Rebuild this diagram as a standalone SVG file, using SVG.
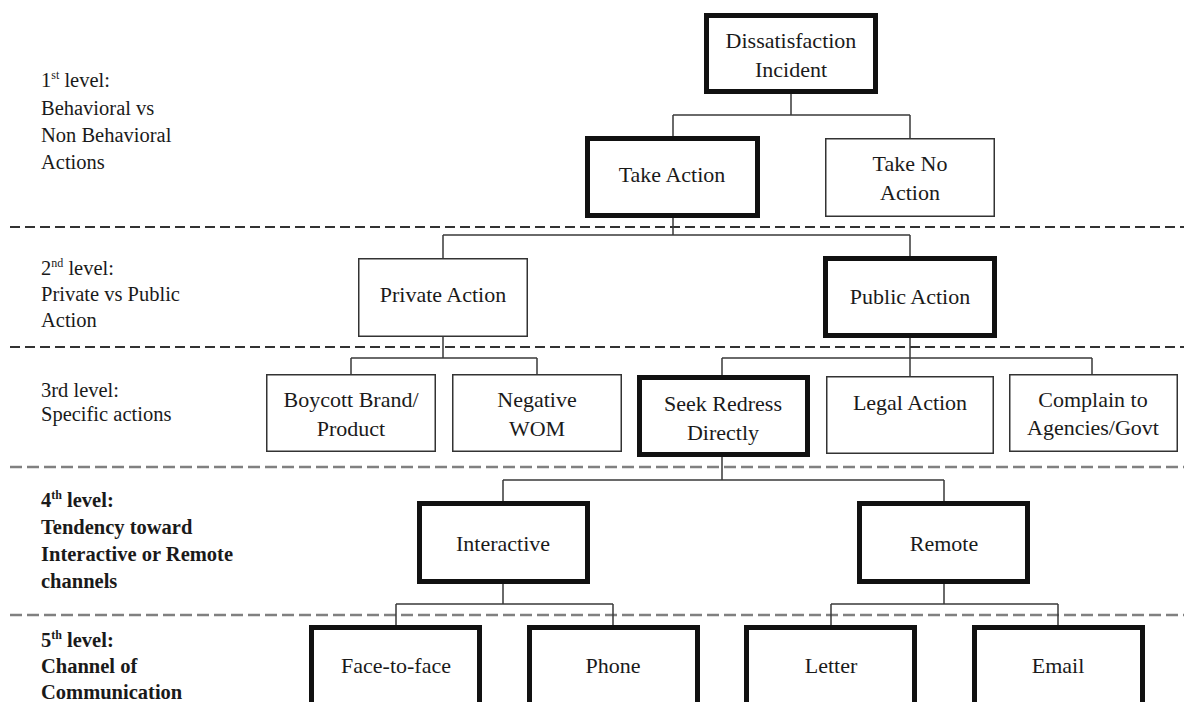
<svg xmlns="http://www.w3.org/2000/svg" width="1184" height="702" viewBox="0 0 1184 702">
<style>
  .bg { fill: #ffffff; }
  .thick { fill: #ffffff; stroke: #111111; stroke-width: 5; }
  .thin { fill: #ffffff; stroke: #333333; stroke-width: 1.5; }
  .lbl { font-family: "Liberation Serif", "Times New Roman", serif; font-size: 22px; fill: #1a1a1a; text-anchor: middle; }
  .lvl { font-family: "Liberation Serif", "Times New Roman", serif; font-size: 20.5px; fill: #1a1a1a; }
  .lvlb { font-family: "Liberation Serif", "Times New Roman", serif; font-size: 20.5px; font-weight: bold; fill: #1a1a1a; }
  .sup { font-size: 12px; }
  .dashA { stroke: #333333; stroke-width: 1.8; stroke-dasharray: 10 5; fill: none; }
  .dashB { stroke: #808080; stroke-width: 2.5; stroke-dasharray: 12 5; fill: none; }
  .conn { stroke: #3a3a3a; stroke-width: 1.5; fill: none; }
</style>
<rect class="bg" x="0" y="0" width="1184" height="702"/>

<g id="level-separators">
  <line class="dashA" x1="10" y1="227" x2="1184" y2="227"/>
  <line class="dashA" x1="10" y1="347" x2="1184" y2="347"/>
  <line class="dashB" x1="10" y1="467" x2="1184" y2="467"/>
  <line class="dashB" x1="10" y1="615" x2="1184" y2="615"/>
</g>

<g id="level-labels">
  <text class="lvl" x="41" y="87">1<tspan class="sup" dy="-8">st</tspan><tspan dy="8"> level:</tspan></text>
  <text class="lvl" x="41" y="115">Behavioral vs</text>
  <text class="lvl" x="41" y="142">Non Behavioral</text>
  <text class="lvl" x="41" y="169">Actions</text>

  <text class="lvl" x="41" y="275">2<tspan class="sup" dy="-8">nd</tspan><tspan dy="8"> level:</tspan></text>
  <text class="lvl" x="41" y="301">Private vs Public</text>
  <text class="lvl" x="41" y="327">Action</text>

  <text class="lvl" x="41" y="397">3rd level:</text>
  <text class="lvl" x="41" y="421">Specific actions</text>

  <text class="lvlb" x="41" y="507">4<tspan class="sup" dy="-8">th</tspan><tspan dy="8"> level:</tspan></text>
  <text class="lvlb" x="41" y="534">Tendency toward</text>
  <text class="lvlb" x="41" y="561">Interactive or Remote</text>
  <text class="lvlb" x="41" y="588">channels</text>

  <text class="lvlb" x="41" y="647">5<tspan class="sup" dy="-8">th</tspan><tspan dy="8"> level:</tspan></text>
  <text class="lvlb" x="41" y="673">Channel of</text>
  <text class="lvlb" x="41" y="699">Communication</text>
</g>

<g id="connectors">
  <path class="conn" d="M791 94 V115 M673 115 H910 M673 115 V136 M910 115 V138"/>
  <path class="conn" d="M673 218 V235 M443 235 H910 M443 235 V258 M910 235 V256"/>
  <path class="conn" d="M443 337 V358 M351 358 H537 M351 358 V374 M537 358 V374"/>
  <path class="conn" d="M910 338 V376 M722 358 H1092 M722 358 V375 M1092 358 V374"/>
  <path class="conn" d="M722 457 V480 M503 480 H944 M503 480 V501 M944 480 V501"/>
  <path class="conn" d="M503 584 V604 M396 604 H613 M396 604 V625 M613 604 V625"/>
  <path class="conn" d="M944 584 V604 M831 604 H1058 M831 604 V625 M1058 604 V625"/>
</g>

<g id="node-dissatisfaction">
  <rect class="thick" x="706.5" y="15.5" width="169" height="76"/>
  <text class="lbl" x="791" y="48">Dissatisfaction</text>
  <text class="lbl" x="791" y="77">Incident</text>
</g>
<g id="node-take-action">
  <rect class="thick" x="587.5" y="138.5" width="170" height="77"/>
  <text class="lbl" x="672" y="182">Take Action</text>
</g>
<g id="node-take-no-action">
  <rect class="thin" x="825.75" y="138.75" width="168.5" height="77.5"/>
  <text class="lbl" x="910" y="171">Take No</text>
  <text class="lbl" x="910" y="200">Action</text>
</g>
<g id="node-private-action">
  <rect class="thin" x="358.75" y="258.75" width="168.5" height="77.5"/>
  <text class="lbl" x="443" y="302">Private Action</text>
</g>
<g id="node-public-action">
  <rect class="thick" x="825.5" y="258.5" width="169" height="77"/>
  <text class="lbl" x="910" y="304">Public Action</text>
</g>
<g id="node-boycott">
  <rect class="thin" x="266.75" y="374.75" width="168.5" height="76.5"/>
  <text class="lbl" x="351" y="407">Boycott Brand/</text>
  <text class="lbl" x="351" y="436">Product</text>
</g>
<g id="node-negative-wom">
  <rect class="thin" x="452.75" y="374.75" width="168.5" height="76.5"/>
  <text class="lbl" x="537" y="407">Negative</text>
  <text class="lbl" x="537" y="436">WOM</text>
</g>
<g id="node-seek-redress">
  <rect class="thick" x="639.5" y="377.5" width="168" height="77"/>
  <text class="lbl" x="723" y="411">Seek Redress</text>
  <text class="lbl" x="723" y="440">Directly</text>
</g>
<g id="node-legal-action">
  <rect class="thin" x="826.75" y="376.75" width="166.5" height="76.5"/>
  <text class="lbl" x="910" y="410">Legal Action</text>
</g>
<g id="node-complain">
  <rect class="thin" x="1009.75" y="374.75" width="167.5" height="76.5"/>
  <text class="lbl" x="1093" y="407">Complain to</text>
  <text class="lbl" x="1093" y="435">Agencies/Govt</text>
</g>
<g id="node-interactive">
  <rect class="thick" x="419.5" y="503.5" width="168" height="78"/>
  <text class="lbl" x="503" y="551">Interactive</text>
</g>
<g id="node-remote">
  <rect class="thick" x="859.5" y="503.5" width="168" height="78"/>
  <text class="lbl" x="944" y="551">Remote</text>
</g>
<g id="node-face-to-face">
  <rect class="thick" x="311.5" y="627.5" width="168" height="100"/>
  <text class="lbl" x="396" y="673">Face-to-face</text>
</g>
<g id="node-phone">
  <rect class="thick" x="529.5" y="627.5" width="168" height="100"/>
  <text class="lbl" x="613" y="673">Phone</text>
</g>
<g id="node-letter">
  <rect class="thick" x="746.5" y="627.5" width="168" height="100"/>
  <text class="lbl" x="831" y="673">Letter</text>
</g>
<g id="node-email">
  <rect class="thick" x="974.5" y="627.5" width="168" height="100"/>
  <text class="lbl" x="1058" y="673">Email</text>
</g>
</svg>
